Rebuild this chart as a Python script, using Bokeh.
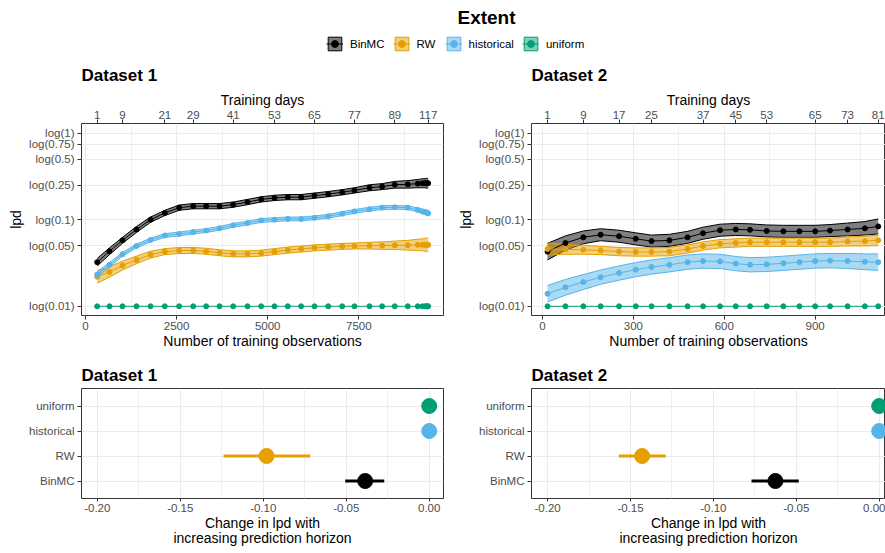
import numpy as np
from bokeh.plotting import figure
from bokeh.models import (Range1d, FixedTicker, LinearAxis, Legend, LegendItem,
                          Label, FactorRange)
from bokeh.layouts import column, row
from bokeh.embed import file_html
from bokeh.resources import INLINE

FONT = "Liberation Sans"

methods = ["BinMC", "RW", "historical", "uniform"]
colors = ["#000000", "#E69F00", "#56B4E9", "#009E73"]

# ---------------- Dataset 1 (top) ----------------
days1 = list(range(1, 118, 4))
obs1 = [321, 658, 1015, 1400, 1784, 2177, 2571, 2955, 3312, 3677, 4052, 4445,
        4821, 5186, 5551, 5918, 6284, 6660, 7044, 7380, 7793, 8141, 8487, 8844,
        9118, 9247, 9316, 9357, 9384, 9403]
d1_binmc = [-3.43, -3.14, -2.85, -2.56, -2.30, -2.12, -1.98, -1.94, -1.94, -1.94,
            -1.90, -1.83, -1.76, -1.72, -1.70, -1.70, -1.66, -1.62, -1.57, -1.52,
            -1.45, -1.42, -1.37, -1.36, -1.34, -1.33, -1.33, -1.33, -1.33, -1.33]
d1_binmc_hw = [0.10, 0.09, 0.08, 0.08, 0.07, 0.07, 0.07, 0.07, 0.07, 0.07,
               0.07, 0.07, 0.07, 0.07, 0.07, 0.07, 0.07, 0.07, 0.07, 0.07,
               0.08, 0.08, 0.09, 0.10, 0.11, 0.12, 0.12, 0.13, 0.13, 0.13]
d1_rw = [-3.82, -3.69, -3.52, -3.37, -3.23, -3.15, -3.12, -3.12, -3.14, -3.18,
         -3.21, -3.21, -3.19, -3.15, -3.11, -3.08, -3.05, -3.03, -3.01, -3.00,
         -2.99, -2.99, -2.98, -2.98, -2.97, -2.97, -2.97, -2.97, -2.97, -2.97]
d1_rw_hw = [0.17, 0.14, 0.12, 0.10, 0.09, 0.08, 0.08, 0.08, 0.08, 0.08,
            0.08, 0.08, 0.08, 0.08, 0.08, 0.08, 0.08, 0.08, 0.08, 0.08,
            0.09, 0.10, 0.11, 0.13, 0.15, 0.16, 0.17, 0.18, 0.18, 0.19]
d1_hist = [-3.76, -3.50, -3.22, -3.00, -2.84, -2.72, -2.68, -2.63, -2.59, -2.53,
           -2.45, -2.39, -2.32, -2.30, -2.28, -2.28, -2.25, -2.21, -2.14, -2.08,
           -2.02, -1.98, -1.97, -1.98, -2.04, -2.08, -2.10, -2.11, -2.12, -2.13]
d1_hist_hw = [0.07, 0.06, 0.05, 0.05, 0.05, 0.05, 0.05, 0.05, 0.05, 0.05,
              0.05, 0.05, 0.05, 0.05, 0.05, 0.05, 0.05, 0.05, 0.05, 0.05,
              0.05, 0.05, 0.05, 0.05, 0.05, 0.06, 0.06, 0.06, 0.07, 0.07]
d1_unif = [float(np.log(0.01))] * 30
top_days1 = [1, 9, 21, 29, 41, 53, 65, 77, 89, 117]

# ---------------- Dataset 2 (top) ----------------
days2 = list(range(1, 82, 4))
obs2 = [17, 76, 135, 192, 253, 308, 360, 419, 479, 530, 586, 638, 685, 740,
        795, 848, 900, 949, 1007, 1064, 1108]
d2_binmc = [-3.15, -2.92, -2.77, -2.70, -2.74, -2.81, -2.87, -2.85, -2.77, -2.66,
            -2.58, -2.56, -2.57, -2.60, -2.61, -2.61, -2.61, -2.59, -2.56, -2.53, -2.48]
d2_binmc_hw = [0.22, 0.19, 0.17, 0.16, 0.16, 0.16, 0.16, 0.16, 0.16, 0.16,
               0.16, 0.16, 0.16, 0.16, 0.16, 0.16, 0.16, 0.16, 0.17, 0.18, 0.20]
d2_rw = [-3.08, -3.09, -3.10, -3.12, -3.15, -3.16, -3.16, -3.15, -3.08, -3.00,
         -2.94, -2.92, -2.90, -2.90, -2.90, -2.90, -2.90, -2.90, -2.88, -2.87, -2.85]
d2_rw_hw = [0.16, 0.13, 0.12, 0.11, 0.11, 0.11, 0.11, 0.11, 0.11, 0.11,
            0.11, 0.11, 0.11, 0.11, 0.11, 0.11, 0.11, 0.11, 0.12, 0.13, 0.14]
d2_hist = [-4.27, -4.10, -3.96, -3.83, -3.72, -3.63, -3.56, -3.50, -3.43, -3.40,
           -3.41, -3.47, -3.50, -3.49, -3.46, -3.43, -3.40, -3.39, -3.40, -3.42, -3.43]
d2_hist_hw = [0.22, 0.21, 0.20, 0.19, 0.19, 0.19, 0.19, 0.19, 0.19, 0.19,
              0.19, 0.19, 0.19, 0.19, 0.19, 0.19, 0.19, 0.19, 0.20, 0.21, 0.22]
d2_unif = [float(np.log(0.01))] * 21
top_days2 = [1, 9, 17, 25, 37, 45, 53, 65, 73, 81]

# y ticks: lpd shown as log(p)
y_tick_probs = [0.01, 0.05, 0.1, 0.25, 0.5, 0.75, 1.0]
y_tick_labels = ["log(0.01)", "log(0.05)", "log(0.1)", "log(0.25)",
                 "log(0.5)", "log(0.75)", "log(1)"]

# ---------------- Bottom panels ----------------
d1_change = [-0.0386, -0.0980, 0.0, 0.0]
d1_lo = [-0.0506, -0.1239, 0.0, 0.0]
d1_hi = [-0.0271, -0.0717, 0.0, 0.0]
d2_change = [-0.0626, -0.1430, 0.0, 0.0]
d2_lo = [-0.0770, -0.1570, 0.0, 0.0]
d2_hi = [-0.0485, -0.1287, 0.0, 0.0]

TICK_FS = "11.5px"
AX_FS = "14px"
TITLE_FS = "17px"
GRID = "#EBEBEB"
MINOR_GRID = "#F0F0F0"
FRAME = "#333333"
TICKLAB = "#4D4D4D"


def style_axis(ax, lab_standoff=2, ax_standoff=0, tick_out=4):
    ax.axis_line_color = None
    ax.major_tick_line_color = FRAME
    ax.major_tick_in = 0
    ax.major_tick_out = tick_out
    ax.minor_tick_line_color = None
    ax.major_label_text_font = FONT
    ax.major_label_text_font_size = TICK_FS
    ax.major_label_text_color = TICKLAB
    ax.major_label_standoff = lab_standoff
    ax.axis_label_text_font = FONT
    ax.axis_label_text_font_size = AX_FS
    ax.axis_label_text_font_style = "normal"
    ax.axis_label_text_color = "#000000"
    ax.axis_label_standoff = ax_standoff


def base_fig(w, h, xr, yr, mb, title, standoff):
    p = figure(width=w, height=h, x_range=xr, y_range=yr,
               output_backend="svg", toolbar_location=None,
               min_border_left=mb[0], min_border_right=mb[1],
               min_border_top=mb[2], min_border_bottom=mb[3],
               background_fill_color="white", border_fill_color="white")
    p.outline_line_color = FRAME
    p.outline_line_width = 1
    p.title.text = title
    p.title.text_font = FONT
    p.title.text_font_size = TITLE_FS
    p.title.text_font_style = "bold"
    p.title.text_color = "#000000"
    p.title.align = "left"
    p.title.standoff = standoff
    p.title.offset = 0
    return p


def top_panel(w, xr, mb, title, obs, series, hws, xticks, xminor, top_days, days):
    p = base_fig(w, 297, xr, Range1d(-4.85, 0.26), mb, title, 7)
    yt = [float(np.log(v)) for v in y_tick_probs]
    yax = p.yaxis[0]
    bax = p.xaxis[0]
    yax.ticker = FixedTicker(ticks=yt)
    yax.major_label_overrides = {t: l for t, l in zip(yt, y_tick_labels)}
    yax.axis_label = "lpd"
    bax.ticker = FixedTicker(ticks=xticks, minor_ticks=xminor)
    bax.axis_label = "Number of training observations"
    style_axis(bax, 2, 0)
    style_axis(yax, 3, 2)
    top_obs = [obs[days.index(d)] for d in top_days]
    tax = LinearAxis(ticker=FixedTicker(ticks=top_obs),
                     major_label_overrides={o: str(d) for o, d in zip(top_obs, top_days)},
                     axis_label="Training days")
    style_axis(tax, 1, 0)
    p.add_layout(tax, "above")
    p.xgrid.grid_line_color = GRID
    p.xgrid.minor_grid_line_color = MINOR_GRID
    p.ygrid.grid_line_color = GRID
    # ribbons
    for vals, hw, c in zip(series, hws, colors):
        if hw is None:
            continue
        lo = [v - h for v, h in zip(vals, hw)]
        hi = [v + h for v, h in zip(vals, hw)]
        p.varea(x=obs, y1=lo, y2=hi, fill_color=c, fill_alpha=0.5)
        p.line(obs, lo, line_color=c, line_width=1)
        p.line(obs, hi, line_color=c, line_width=1)
    for vals, c in zip(series, colors):
        p.line(obs, vals, line_color=c, line_width=1)
    for vals, c in zip(series, colors):
        p.scatter(obs, vals, size=5, color=c)
    return p


def bottom_panel(w, xr, mb, title, change, lo, hi):
    yr = FactorRange(factors=methods, range_padding=0.2, range_padding_units="absolute")
    p = base_fig(w, 198, xr, yr, mb, title, 8)
    p.xaxis.ticker = FixedTicker(ticks=[-0.20, -0.15, -0.10, -0.05, 0.0],
                                 minor_ticks=[-0.225, -0.175, -0.125, -0.075, -0.025, 0.025])
    p.xaxis.major_label_overrides = {-0.20: "-0.20", -0.15: "-0.15", -0.10: "-0.10",
                                     -0.05: "-0.05", 0.0: "0.00"}
    p.xaxis.axis_label = "Change in lpd with\nincreasing prediction horizon"
    style_axis(p.xaxis[0], 1, 0, 3)
    style_axis(p.yaxis[0], 3, 0)
    p.xaxis[0].axis_label_text_line_height = 0.95
    p.xgrid.grid_line_color = GRID
    p.xgrid.minor_grid_line_color = MINOR_GRID
    p.ygrid.grid_line_color = GRID
    p.segment(x0=lo, y0=methods, x1=hi, y1=methods, line_color=colors, line_width=3)
    p.scatter(x=change, y=methods, size=15, color=colors)
    return p


LW, RW_ = 451, 434

tl = top_panel(LW, Range1d(-110, 9824), (81, 8, 65, 40), "Dataset 1", obs1,
               [d1_binmc, d1_rw, d1_hist, d1_unif],
               [d1_binmc_hw, d1_rw_hw, d1_hist_hw, None],
               [0, 2500, 5000, 7500], [1250, 3750, 6250, 8750], top_days1, days1)
tr = top_panel(RW_, Range1d(-36, 1132), (80, 0, 65, 40), "Dataset 2", obs2,
               [d2_binmc, d2_rw, d2_hist, d2_unif],
               [d2_binmc_hw, d2_rw_hw, d2_hist_hw, None],
               [0, 300, 600, 900], [150, 450, 750, 1050], top_days2, days2)
bl = bottom_panel(LW, Range1d(-0.2095, 0.0086), (81, 8, 33, 55), "Dataset 1",
                  d1_change, d1_lo, d1_hi)
br = bottom_panel(RW_, Range1d(-0.2097, 0.0038), (80, 0, 33, 55), "Dataset 2",
                  d2_change, d2_lo, d2_hi)

# ---------------- Header with legend ----------------
HW, HH = LW + RW_, 58
hdr = figure(width=HW, height=HH, x_range=Range1d(0, HW), y_range=Range1d(0, HH),
             output_backend="svg", toolbar_location=None,
             min_border=0, min_border_left=0, min_border_right=0,
             min_border_top=0, min_border_bottom=0)
hdr.axis.visible = False
hdr.grid.visible = False
hdr.outline_line_color = None
items = []
for m, c in zip(methods, colors):
    rq = hdr.quad(left=[-60], right=[-50], bottom=[-60], top=[-50],
                  fill_color=c, fill_alpha=0.5, line_color=c, line_width=1)
    rl = hdr.line([-60, -50], [-60, -60], line_color=c, line_width=1)
    rs = hdr.scatter([-55], [-55], size=5, color=c)
    items.append(LegendItem(label=m, renderers=[rq, rl, rs]))
leg = Legend(items=items, orientation="horizontal", location=(326, 6),
             glyph_width=17, glyph_height=17, label_height=17,
             label_standoff=7, spacing=8, padding=0, margin=0,
             border_line_color=None, background_fill_alpha=0,
             label_text_font=FONT, label_text_font_size="11.5px",
             label_text_color="#000000")
hdr.add_layout(leg)
hdr.add_layout(Label(x=486, y=HH - 17, text="Extent", text_align="center",
                     text_baseline="middle", text_font=FONT, text_color="#000000",
                     text_font_size="19px", text_font_style="bold"))

layout = column(hdr, row(tl, tr), row(bl, br))
open("out.html", "w").write(file_html(layout, INLINE))
